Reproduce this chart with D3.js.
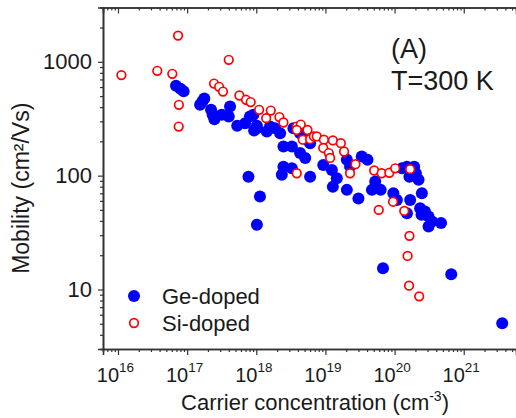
<!DOCTYPE html>
<html><head><meta charset="utf-8">
<script src="https://cdn.jsdelivr.net/npm/d3@7"></script>
<style>
html,body{margin:0;padding:0;background:#fff;}
svg{display:block;font-family:"Liberation Sans",Arial,sans-serif;}
</style></head>
<body>
<svg id="chart" width="516" height="418"></svg>
<script>
// ---- data ----
const xDomain = [6.07e15, 5.7e21];
const yDomain = [3, 3000];
const xMajorTicks = [1e16, 1e17, 1e18, 1e19, 1e20, 1e21];
const xTickExponents = ["16", "17", "18", "19", "20", "21"];
const yMajorTicks = [10, 100, 1000];
const yTickLabels = ["10", "100", "1000"];

const geX = [6.9e16, 8.0e16, 8.9e16, 1.54e17, 1.77e17, 1.66e17, 2.22e17, 2.48e17, 2.34e17, 3.16e17,
  4.17e17, 4.0e17, 5.3e17, 6.9e17, 8.1e17, 9.3e17, 1.02e18, 7.7e17, 1.13e18, 1.02e18,
  9.1e17, 1.02e18, 1.42e18, 1.58e18, 1.87e18, 2.21e18, 2.47e18, 3.44e18, 3.27e18, 4.3e18,
  5.1e18, 4.3e18, 5.4e18, 6.0e18, 2.47e18, 3.27e18, 2.34e18, 6.0e18, 9.3e18, 1.24e19,
  1.46e19, 1.28e19, 2.04e19, 2.27e19, 2.04e19, 3.0e19, 3.35e19, 4.06e19, 5.25e19, 6.3e19,
  4.7e19, 9.6e19, 1.28e20, 1.51e20, 1.92e20, 1.64e20, 2.03e20, 2.22e20, 2.48e20, 1.08e20,
  1.68e20, 6.8e19, 6.6e20, 3.6e21, 1.51e20, 2.34e20, 2.75e20, 3.1e20, 3.47e20, 4.7e20,
  3.1e20, 2.45e20];
const geY = [615, 580, 550, 419, 477, 448, 379, 313, 342, 342,
  405, 331, 275, 289, 331, 249, 274, 98, 65.5, 37,
  342, 261, 244, 270, 261, 236, 180, 261, 180, 158,
  143, 236, 207, 193, 120, 116, 102, 98, 124, 112,
  95, 80, 138, 120, 75, 63, 147, 138, 89, 75,
  75, 70, 116, 120, 120, 98, 105, 92, 70, 61,
  61, 15.4, 13.6, 5.06, 46.8, 51.8, 48.4, 43.8, 39.6, 38.3,
  35.7, 45.3];

const siX = [1.12e16, 3.7e16, 6.1e16, 7.4e16, 7.6e16, 7.55e16, 4.0e17, 2.45e17, 2.9e17, 3.3e17,
  5.7e17, 7.1e17, 8.3e17, 1.1e18, 1.62e18, 1.39e18, 2.16e18, 2.47e18, 3.85e18, 4.4e18,
  3.85e18, 5.5e18, 4.7e18, 6.0e18, 6.8e18, 7.5e18, 9.5e18, 1.28e19, 1.67e19, 9.3e18,
  1.12e19, 1.17e19, 1.86e19, 3.85e18, 2.27e19, 2.72e19, 5.07e19, 6.5e19, 8.4e19, 1.02e20,
  1.68e20, 5.9e19, 1.38e20, 1.64e20, 1.54e20, 1.62e20, 2.27e20, 9.5e19];
const siY = [764, 834, 785, 1700, 419, 270, 1042, 644, 603, 548,
  506, 464, 443, 379, 373, 320, 327, 293, 270, 281,
  252, 252, 207, 209, 221, 221, 207, 204, 193, 175,
  158, 143, 163, 105, 105, 126, 111, 105, 106, 116,
  114, 50, 49, 29.6, 19.7, 10.8, 8.7, 59];

const seriesNames = ["Ge-doped", "Si-doped"];

// ---- layout ----
const svg = d3.select("#chart");
const pLeft = 103, pRight = 516, pTop = 7.5, pBottom = 349;
const x = d3.scaleLog().domain(xDomain).range([pLeft, pRight]);
const y = d3.scaleLog().domain(yDomain).range([pBottom, pTop]);
const axisColor = "#333";
const textColor = "#1a1a1a";

function minorTicks(scale) {
  const [a, b] = scale.domain();
  const out = [];
  for (let e = Math.floor(Math.log10(a)); e <= Math.ceil(Math.log10(b)); e++) {
    for (let m = 2; m <= 9; m++) {
      const v = m * Math.pow(10, e);
      if (v > a * 1.0001 && v < b * 0.9999) out.push(v);
    }
  }
  return out;
}

function styleAxis(g) {
  g.selectAll("path.domain").attr("stroke", axisColor).attr("stroke-width", 1.6);
  g.selectAll(".tick line").attr("stroke", axisColor).attr("stroke-width", 1.2);
}

// bottom axis
const gxMinor = svg.append("g").attr("transform", `translate(0,${pBottom})`)
  .call(d3.axisBottom(x).tickValues(minorTicks(x)).tickSize(3).tickFormat(""));
styleAxis(gxMinor);
const gx = svg.append("g").attr("transform", `translate(0,${pBottom})`)
  .call(d3.axisBottom(x).tickValues(xMajorTicks).tickSize(6).tickPadding(8).tickFormat(() => ""));
styleAxis(gx);
gx.selectAll(".tick text").each(function(d, i) {
  const t = d3.select(this);
  t.text(null).attr("fill", textColor).attr("font-size", 20).attr("dy", null).attr("y", 33)
   .attr("x", -3).attr("text-anchor", "middle");
  t.append("tspan").text("10");
  t.append("tspan").text(xTickExponents[i]).attr("font-size", 13.5).attr("dy", -10);
});

// top axis (ticks inward)
const gtMinor = svg.append("g").attr("transform", `translate(0,${pTop})`)
  .call(d3.axisTop(x).tickValues(minorTicks(x)).tickSize(-3).tickFormat(""));
styleAxis(gtMinor);
const gt = svg.append("g").attr("transform", `translate(0,${pTop})`)
  .call(d3.axisTop(x).tickValues(xMajorTicks).tickSize(-6).tickFormat(""));
styleAxis(gt);

// left axis
const gyMinor = svg.append("g").attr("transform", `translate(${pLeft},0)`)
  .call(d3.axisLeft(y).tickValues(minorTicks(y)).tickSize(3).tickFormat(""));
styleAxis(gyMinor);
const gy = svg.append("g").attr("transform", `translate(${pLeft},0)`)
  .call(d3.axisLeft(y).tickValues(yMajorTicks).tickSize(5).tickPadding(6)
    .tickFormat((d, i) => yTickLabels[i]));
styleAxis(gy);
gy.selectAll(".tick text").attr("font-size", 22).attr("fill", textColor);

// axis titles
svg.append("text").attr("x", 315).attr("y", 410).attr("text-anchor", "middle")
  .attr("font-size", 22).attr("fill", textColor)
  .call(t => {
    t.append("tspan").text("Carrier concentration (cm");
    t.append("tspan").text("-3").attr("font-size", 14).attr("dy", -9);
    t.append("tspan").text(")").attr("dy", 9);
  });
svg.append("text").attr("transform", `translate(29,${(pTop + pBottom) / 2 + 10}) rotate(-90)`)
  .attr("text-anchor", "middle").attr("font-size", 23).attr("fill", textColor)
  .text("Mobility (cm²/Vs)");

// annotations
svg.append("text").attr("x", 391).attr("y", 58).attr("font-size", 27).attr("fill", textColor).text("(A)");
svg.append("text").attr("x", 391).attr("y", 90).attr("font-size", 27).attr("fill", textColor).text("T=300 K");

// points
const plot = svg.append("g");
plot.selectAll("circle.ge").data(geX.map((v, i) => [v, geY[i]])).join("circle")
  .attr("class", "ge").attr("cx", d => x(d[0])).attr("cy", d => y(d[1])).attr("r", 6)
  .attr("fill", "#0000ff");
plot.selectAll("circle.si").data(siX.map((v, i) => [v, siY[i]])).join("circle")
  .attr("class", "si").attr("cx", d => x(d[0])).attr("cy", d => y(d[1])).attr("r", 4.3)
  .attr("fill", "#fff").attr("stroke", "#ff0000").attr("stroke-width", 1.7);

// legend
const lg = svg.append("g");
lg.append("circle").attr("cx", 134).attr("cy", 296).attr("r", 6).attr("fill", "#0000ff");
lg.append("text").attr("x", 162).attr("y", 304).attr("font-size", 22).attr("fill", textColor).text(seriesNames[0]);
lg.append("circle").attr("cx", 134).attr("cy", 323).attr("r", 4.3).attr("fill", "#fff")
  .attr("stroke", "#ff0000").attr("stroke-width", 1.7);
lg.append("text").attr("x", 162).attr("y", 331).attr("font-size", 22).attr("fill", textColor).text(seriesNames[1]);
</script>
</body></html>
